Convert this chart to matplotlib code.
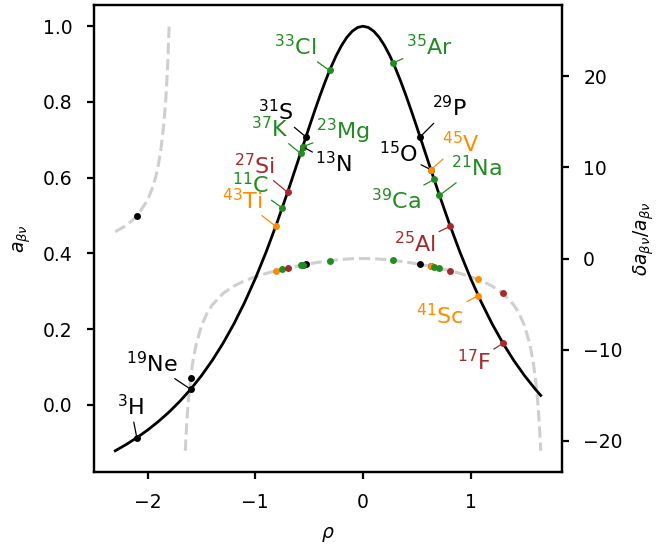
import numpy as np
import matplotlib
matplotlib.use("Agg")
import matplotlib.pyplot as plt

# theory curve a_beta_nu(rho)
rho_curve = [-2.3, -2.2, -2.1, -2.0, -1.9, -1.8, -1.7, -1.6, -1.5, -1.4, -1.3, -1.2,
             -1.1, -1.0, -0.9, -0.8, -0.7, -0.6, -0.55, -0.5, -0.45, -0.4, -0.35,
             -0.3, -0.25, -0.2, -0.15, -0.1, -0.05, 0.0, 0.05, 0.1, 0.15, 0.2, 0.25,
             0.3, 0.35, 0.4, 0.45, 0.5, 0.55, 0.6, 0.7, 0.8, 0.9, 1.0, 1.1, 1.2, 1.3,
             1.4, 1.5, 1.6, 1.65]
a_curve = [-0.12136, -0.10502, -0.08688, -0.06667, -0.04411, -0.01887, 0.00943,
           0.04120, 0.07692, 0.11712, 0.16233, 0.21311, 0.26998, 0.33333, 0.40331,
           0.47967, 0.56152, 0.64706, 0.69034, 0.73333, 0.77547, 0.81609, 0.85449,
           0.88991, 0.92157, 0.94872, 0.97066, 0.98680, 0.99668, 1.0, 0.99668,
           0.98680, 0.97066, 0.94872, 0.92157, 0.88991, 0.85449, 0.81609, 0.77547,
           0.73333, 0.69034, 0.64706, 0.56152, 0.47967, 0.40331, 0.33333, 0.26998,
           0.21311, 0.16233, 0.11712, 0.07692, 0.04120, 0.02485]

# relative sensitivity (right axis), two branches either side of the pole
rho_sens_left = [-2.3, -2.2, -2.1, -2.0, -1.95, -1.925, -1.9, -1.875, -1.85, -1.83,
                 -1.82, -1.81, -1.8]
sens_left = [2.938, 3.603, 4.625, 6.4, 7.893, 8.928, 10.270, 12.079, 14.653, 17.657,
             19.670, 22.199, 25.472]
rho_sens_mid = [-1.65, -1.64, -1.63, -1.62, -1.6, -1.58, -1.55, -1.5, -1.45, -1.4, -1.3,
                -1.2, -1.1, -1.0, -0.9, -0.8, -0.7, -0.6, -0.5, -0.4, -0.3, -0.2, -0.1,
                0.0, 0.1, 0.2, 0.3, 0.4, 0.5, 0.6, 0.7, 0.8, 0.9, 1.0, 1.1, 1.2, 1.3,
                1.4, 1.45, 1.5, 1.55, 1.58, 1.6, 1.62, 1.63, 1.64, 1.65]
sens_mid = [-21.084, -18.788, -16.941, -15.423, -13.075, -11.342, -9.454, -7.385,
            -6.041, -5.094, -3.837, -3.026, -2.447, -2.0, -1.635, -1.323, -1.048,
            -0.802, -0.582, -0.389, -0.227, -0.104, -0.026, 0.0, -0.026, -0.104,
            -0.227, -0.389, -0.582, -0.802, -1.048, -1.323, -1.635, -2.0, -2.447,
            -3.026, -3.837, -5.094, -6.041, -7.385, -9.454, -11.342, -13.075,
            -15.423, -16.941, -18.788, -21.084]

# isotopes
iso_labels = ["$^{3}$H", "$^{19}$Ne", "$^{13}$N", "$^{31}$S", "$^{37}$K", "$^{23}$Mg",
              "$^{43}$Ti", "$^{11}$C", "$^{27}$Si", "$^{33}$Cl", "$^{35}$Ar", "$^{29}$P",
              "$^{15}$O", "$^{45}$V", "$^{39}$Ca", "$^{21}$Na", "$^{25}$Al", "$^{41}$Sc",
              "$^{17}$F"]
iso_rho = [-2.10, -1.60, -0.56, -0.53, -0.58, -0.56, -0.81, -0.75, -0.70, -0.31, 0.28,
           0.53, 0.63, 0.63, 0.66, 0.71, 0.81, 1.07, 1.30]
iso_a = [-0.08688, 0.04120, 0.68169, 0.70760, 0.66437, 0.68169, 0.47177, 0.52,
         0.56152, 0.88310, 0.90307, 0.70760, 0.62116, 0.62116, 0.59543, 0.55314,
         0.47177, 0.28830, 0.16233]
iso_sens = [4.625, -13.075, -0.711, -0.645, -0.756, -0.711, -1.352, -1.182, -1.048,
            -0.242, -0.199, -0.645, -0.873, -0.873, -0.947, -1.074, -1.352, -2.302,
            -3.837]
iso_colors = ["k", "k", "k", "k", "forestgreen", "forestgreen", "darkorange",
              "forestgreen", "brown", "forestgreen", "forestgreen", "k", "k",
              "darkorange", "forestgreen", "forestgreen", "brown", "darkorange", "brown"]
# label offsets in pixels from the point
label_offsets = [(-6, 31), (-39, 26), (31, -17), (-30, 25), (-31, 25), (40, 15),
                 (-34, 26), (-32, 23), (-33, 27), (-34, 24), (36, 16), (29, 29),
                 (-32, 16), (30, 26), (-38, -21), (37, 28), (-35, -17), (-38, -20),
                 (-29, -18)]

FS = 13.5
FS_ISO = 16
plt.rcParams["font.size"] = FS

fig = plt.figure(figsize=(6.58, 5.48), dpi=100)
ax1 = fig.add_axes([94 / 658, 1 - 472 / 548, 468 / 658, 467 / 548])
ax2 = ax1.twinx()
ax1.set_zorder(ax2.get_zorder() + 1)
ax1.patch.set_visible(False)

gray = "#cfcfcf"
ax2.plot(rho_sens_left, sens_left, "--", color=gray, lw=2.2)
ax2.plot(rho_sens_mid, sens_mid, "--", color=gray, lw=2.2)
for r, s, c in zip(iso_rho, iso_sens, iso_colors):
    ax2.plot(r, s, "o", color=c, ms=5, mec="none")

ax1.plot(rho_curve, a_curve, color="k", lw=2.0)
for lab, r, a, c, (dx, dy) in zip(iso_labels, iso_rho, iso_a, iso_colors, label_offsets):
    ax1.plot(r, a, "o", color=c, ms=5, mec="none")
    ax1.annotate(lab, xy=(r, a), xytext=(dx, dy), textcoords="offset pixels",
                 ha="center", va="center", color=c, fontsize=FS_ISO,
                 arrowprops=dict(arrowstyle="-", color=c, lw=0.9,
                                 shrinkA=0, shrinkB=2))

ax1.set_xlabel(r"$\rho$", fontsize=FS, labelpad=9)
ax1.set_ylabel(r"$a_{\beta\nu}$", fontsize=FS, labelpad=7)
ax2.set_ylabel(r"$\delta a_{\beta\nu}/a_{\beta\nu}$", fontsize=FS, labelpad=6)

for ax in (ax1, ax2):
    for sp in ax.spines.values():
        sp.set_linewidth(1.6)
    ax.tick_params(length=5.3, width=1.6, pad=10, labelsize=FS)

fig.savefig("out.png", dpi=100)
